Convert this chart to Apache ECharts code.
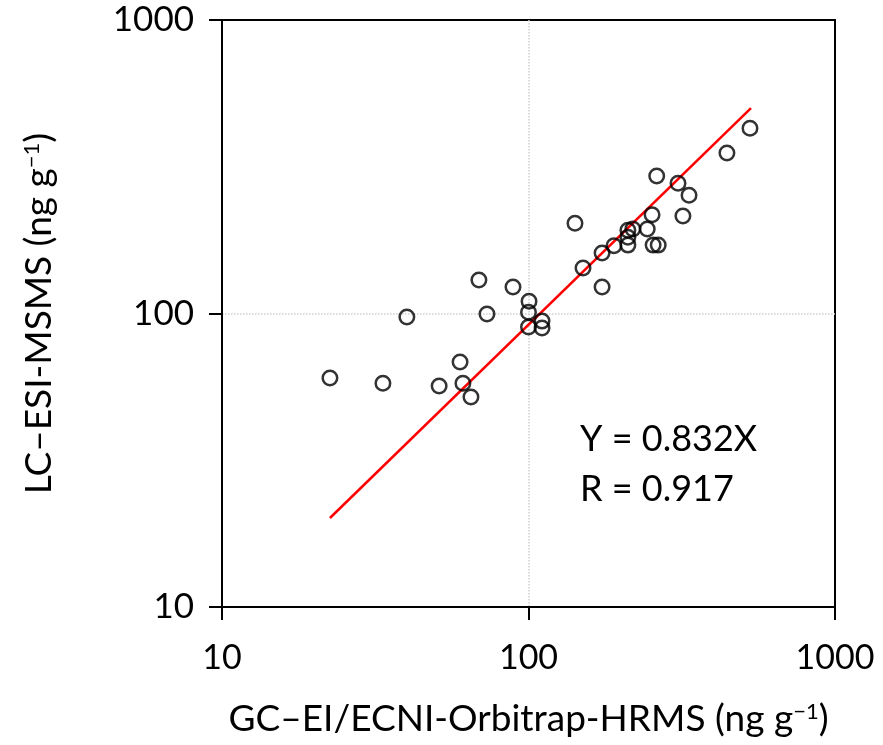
<!DOCTYPE html>
<html>
<head>
<meta charset="utf-8">
<script src="https://cdn.jsdelivr.net/npm/echarts@6/dist/echarts.min.js"></script>
<style>html,body{margin:0;padding:0;background:#fff}#c{width:883px;height:745px}</style>
</head>
<body>
<div id="c"></div>
<script>
// Data
const gcValues = [22.5, 33.5, 40.1, 51.1, 59.8, 61.1, 64.9, 68.9, 73.2, 89.0, 100.4, 100, 100, 110.7, 110.7, 141.8, 150.6, 173.8, 173.8, 190, 211, 211, 211, 219, 244, 253, 255, 265, 262, 307.5, 334, 319, 444, 528];
const lcValues = [60.3, 57.9, 97.3, 56.6, 68.4, 57.9, 51.9, 130, 99.6, 123, 110, 101, 90, 94.2, 89.3, 203, 143, 123, 160.8, 170, 192, 182, 171, 194, 194, 217, 171, 171, 294, 278, 253, 215, 352, 428];
const fitX = [22.5, 532];
const fitY = [20.1, 501];
const tickLabels = [10, 100, 1000];
const eqText = 'Y = 0.832X';
const rText = 'R = 0.917';

const points = gcValues.map((x, i) => [x, lcValues[i]]);
const fitLine = fitX.map((x, i) => [x, fitY[i]]);

const chart = echarts.init(document.getElementById('c'), null, {renderer: 'canvas'});
const axisCommon = {
  type: 'log', logBase: 10, min: 10, max: 1000,
  axisLine: {show: true, lineStyle: {color: '#000', width: 2}},
  axisTick: {show: true, inside: false, length: 13, lineStyle: {color: '#000', width: 2}},
  splitLine: {show: true, showMinLine: false, showMaxLine: false, lineStyle: {color: '#d0d0d0', width: 1.5, type: 'dotted'}},
  minorTick: {show: false}, minorSplitLine: {show: false}
};
const supRich = {
  a: {fontFamily: 'Lato', fontSize: 37, color: '#000'},
  s: {fontFamily: 'Lato', fontSize: 22, color: '#000', verticalAlign: 'top'}
};
chart.setOption({
  animation: false,
  backgroundColor: '#fff',
  grid: {left: 222, right: 48, top: 20, bottom: 138, show: true, borderColor: '#000', borderWidth: 2},
  xAxis: Object.assign({}, axisCommon, {
    axisLabel: {fontFamily: 'Lato', fontSize: 34, color: '#000', margin: 34, formatter: v => tickLabels.includes(v) ? String(v) : ''},
    name: '{a|GC–EI/ECNI-Orbitrap-HRMS (ng g}{s|−1}{a|)}',
    nameLocation: 'middle', nameGap: 94,
    nameTextStyle: {rich: supRich}
  }),
  yAxis: Object.assign({}, axisCommon, {
    axisLabel: {fontFamily: 'Lato', fontSize: 35, color: '#000', margin: 28, formatter: v => tickLabels.includes(v) ? String(v) : ''},
    name: '{a|LC–ESI-MSMS (ng g}{s|−1}{a|)}',
    nameLocation: 'middle', nameGap: 164,
    nameTextStyle: {rich: supRich}
  }),
  graphic: [
    {type: 'text', left: 580, top: 421, style: {text: eqText, font: '36px Lato', fill: '#000'}},
    {type: 'text', left: 580, top: 471, style: {text: rText, font: '36px Lato', fill: '#000'}}
  ],
  series: [
    {type: 'line', data: fitLine, symbol: 'none', lineStyle: {color: '#ff0000', width: 2.5}, z: 3},
    {type: 'scatter', data: points, symbol: 'circle', symbolSize: 14.5,
     itemStyle: {color: 'rgba(255,255,255,0)', borderColor: '#000', borderWidth: 2.5}, z: 4}
  ]
});
</script>
</body>
</html>
